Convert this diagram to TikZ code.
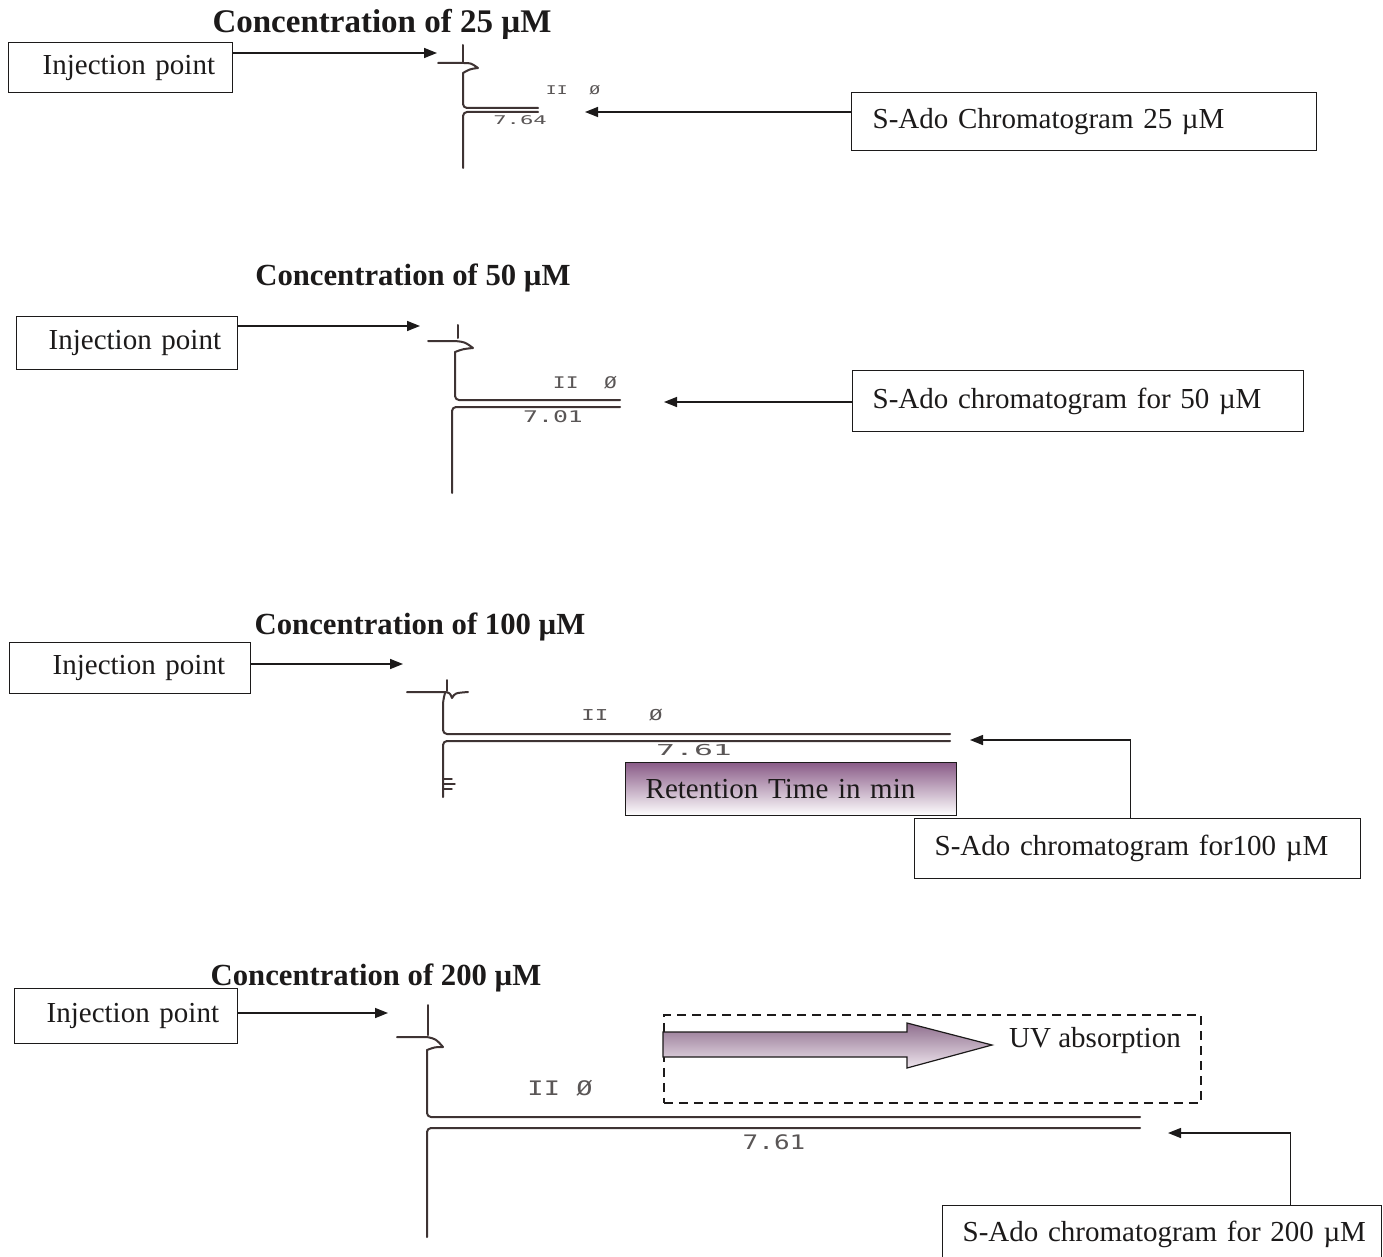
\documentclass[tikz,border=0pt]{standalone}
\usepackage{fontspec}
\usepackage{graphicx}
\setmainfont{Liberation Serif}
\newfontfamily\monof{DejaVu Sans Mono}
\usetikzlibrary{arrows.meta}
\definecolor{ink}{HTML}{1C1A1A}
\definecolor{trc}{HTML}{3E3333}
\definecolor{lbl}{HTML}{5A5656}
\definecolor{mauve}{HTML}{8A5C88}
\definecolor{arrtop}{HTML}{8F6F8E}
\definecolor{arrbot}{HTML}{EEE5ED}
\newcommand\mlab[2]{\scalebox{#1}[1]{#2}}
\begin{document}
\begin{tikzpicture}[x=1pt,y=-1pt,
  box/.style={draw=ink, line width=1.4pt, inner sep=0pt, align=left, text=ink,
              font=\fontsize{29}{34}\selectfont, anchor=north west},
  txt/.style={text=ink, inner sep=0pt, font=\fontsize{29}{34}\selectfont},
  title/.style={text=ink, inner sep=0pt, anchor=base, font=\fontsize{30.7}{36}\selectfont\bfseries},
  arr/.style={draw=ink, line width=1.5pt, -{Triangle[length=13pt,width=10pt]}},
  trace/.style={draw=trc, line width=2pt, rounded corners=4pt, line join=round, line cap=round},
  mono/.style={text=lbl, inner sep=0pt}
]
\useasboundingbox (0,0) rectangle (1383,1257);
\fill[white] (0,0) rectangle (1383,1257);

% ---------------- Panel 1 : 25 uM ----------------
\node[title, font=\fontsize{33}{38}\selectfont\bfseries] (c1) at (382,33) {Concentration of 25 µM};
\node[box, minimum width=224pt, minimum height=50pt, text width=224pt] (inj1) at (8,42) {\hspace*{34pt}Injection point};
\coordinate (t1) at (437,53);
\draw[arr] (inj1.east |- t1) -- (t1);
\draw[trace] (463,45) -- (463,62);
\draw[trace, sharp corners] (438,63) -- (463,63) .. controls (471,63) .. (478,68) .. controls (470,69) .. (463,73);
\draw[trace] (463,73) -- (463,108) -- (538,108);
\draw[trace] (538,112) -- (463,112) -- (463,168);
\node[mono, font=\monof\fontsize{12}{14}\selectfont] (p1a) at (573,90) {\mlab{1.5}{II\ \ Ø}};
\node[mono, font=\monof\fontsize{12}{14}\selectfont] (p1b) at (520,120) {\mlab{1.85}{7.64}};
\node[box, minimum width=465pt, minimum height=58pt, text width=465pt] (sado1) at (851,92) {\hspace*{21pt}S-Ado Chromatogram 25 µM};
\coordinate (s1) at (585,112);
\draw[arr] (sado1.west |- s1) -- (s1);

% ---------------- Panel 2 : 50 uM ----------------
\node[title] (c2) at (413,285) {Concentration of 50 µM};
\node[box, minimum width=221pt, minimum height=53pt, text width=221pt] (inj2) at (16,316) {\hspace*{32pt}Injection point};
\coordinate (t2) at (420,326);
\draw[arr] (inj2.east |- t2) -- (t2);
\draw[trace] (458,325) -- (458,338);
\draw[trace, sharp corners] (428,341) -- (455,341) .. controls (465,342) .. (473,348) .. controls (463,349) .. (455,352);
\draw[trace] (455,352) -- (455,400) -- (620,400);
\draw[trace] (620,407) -- (452,407) -- (452,493);
\node[mono, font=\monof\fontsize{16}{18}\selectfont] (p2a) at (585,383) {\mlab{1.33}{II\ \ Ø}};
\node[mono, font=\monof\fontsize{16}{18}\selectfont] (p2b) at (553,417) {\mlab{1.55}{7.01}};
\node[box, minimum width=451pt, minimum height=61pt, text width=451pt] (sado2) at (852,370) {\hspace*{20pt}S-Ado chromatogram for 50 µM};
\coordinate (s2) at (664,402);
\draw[arr] (sado2.west |- s2) -- (s2);

% ---------------- Panel 3 : 100 uM ----------------
\node[title] (c3) at (420,634) {Concentration of 100 µM};
\node[box, minimum width=241pt, minimum height=51pt, text width=241pt] (inj3) at (9,642) {\hspace*{43pt}Injection point};
\coordinate (t3) at (403,664);
\draw[arr] (inj3.east |- t3) -- (t3);
\draw[trace] (447,680) -- (447,691);
\draw[trace, sharp corners] (407,692) -- (445,692) .. controls (450,693) .. (452,698) .. controls (455,693) .. (468,692);
\draw[trace] (445,693) -- (443,701) -- (443,734) -- (950,734);
\draw[trace] (950,741) -- (443,741) -- (443,797);
\draw[trace, line width=1.4pt] (443,779) -- (452,779);
\draw[trace, line width=1.4pt] (443,784) -- (455,784);
\draw[trace, line width=1.4pt] (443,789) -- (452,789);
\node[mono, font=\monof\fontsize{15}{18}\selectfont] (p3a) at (622,715) {\mlab{1.5}{II\ \ \ Ø}};
\node[mono, font=\monof\fontsize{15}{18}\selectfont] (p3b) at (694,750) {\mlab{2.1}{7.61}};
\node[box, top color=mauve, bottom color=white, minimum width=331pt, minimum height=53pt, text width=331pt] (ret) at (625,762) {\hspace*{20pt}Retention Time in min};
\node[box, minimum width=446pt, minimum height=60pt, text width=446pt] (sado3) at (914,818) {\hspace*{20pt}S-Ado chromatogram for100 µM};
\coordinate (s3) at (970,740);
\draw[arr] ([xshift=-7pt]sado3.north) |- (s3);

% ---------------- Panel 4 : 200 uM ----------------
\node[title] (c4) at (376,985) {Concentration of 200 µM};
\node[box, minimum width=223pt, minimum height=55pt, text width=223pt] (inj4) at (14,988) {\hspace*{32pt}Injection point};
\coordinate (t4) at (388,1013);
\draw[arr] (inj4.east |- t4) -- (t4);
\draw[trace] (428,1005) -- (428,1035);
\draw[trace, sharp corners] (397,1037) -- (427,1037) .. controls (436,1039) .. (443,1047) .. controls (435,1047) .. (427,1050);
\draw[trace] (427,1050) -- (427,1117) -- (1140,1117);
\draw[trace] (1140,1128) -- (427,1128) -- (427,1237);
\node[mono, font=\monof\fontsize{20}{24}\selectfont] (p4a) at (560,1088) {\mlab{1.35}{II Ø}};
\node[mono, font=\monof\fontsize{20}{24}\selectfont] (p4b) at (774,1142) {\mlab{1.3}{7.61}};
\node[draw=ink, line width=1.6pt, dash pattern=on 9pt off 6pt, minimum width=537pt, minimum height=88pt, inner sep=0pt, anchor=north west] (uvbox) at (663,1014) {};
\path[draw=ink, line width=1.2pt, top color=arrtop, bottom color=arrbot]
  (663,1032) -- (907,1032) -- (907,1023) -- (992,1045) -- (907,1068) -- (907,1057) -- (663,1057) -- cycle;
\node[txt] (uv) at (1095,1041) {UV absorption};
\node[box, minimum width=439pt, minimum height=57pt, text width=439pt] (sado4) at (942,1205) {\hspace*{20pt}S-Ado chromatogram for 200 µM};
\coordinate (s4) at (1168,1133);
\draw[arr] ([xshift=128.5pt]sado4.north) |- (s4);
\end{tikzpicture}
\end{document}
